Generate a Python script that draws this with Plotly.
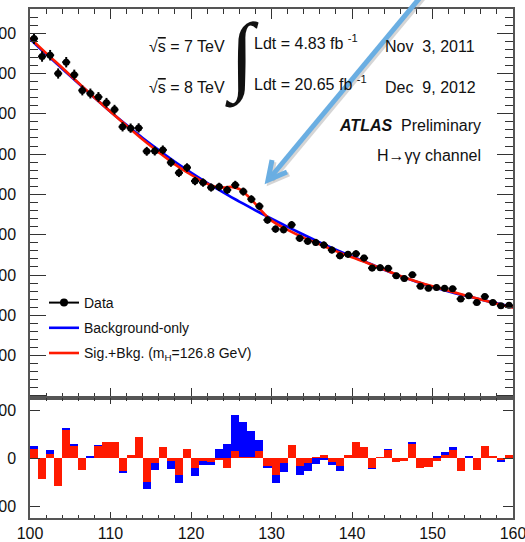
import plotly.graph_objects as go

# ---------------- data ----------------
bin_lo = list(range(100, 160))          # 1 GeV bins, 100-160 GeV
data_events = [4433, 4211, 4227, 4000, 4140, 3985, 3790, 3752, 3709, 3637,
               3552, 3339, 3322, 3325, 3035, 3038, 3052, 2896, 2768, 2833,
               2666, 2647, 2586, 2594, 2556, 2618, 2535, 2441, 2353, 2183,
               2070, 2063, 2124, 1955, 1920, 1905, 1873, 1810, 1738, 1757,
               1765, 1710, 1586, 1592, 1583, 1490, 1458, 1503, 1362, 1335,
               1345, 1336, 1330, 1204, 1243, 1158, 1234, 1161, 1120, 1124]
resid_bkg = [51, -76, 32, -105, 125, 60, -45, 7, 53, 68,
             68, -62, 2, 85, -128, -49, 38, -45, -104, 28,
             -74, -30, -28, 39, 60, 178, 150, 111, 76, -42,
             -105, -60, 50, -70, -56, -24, -10, -28, -56, 5,
             55, 40, -45, 0, 38, -16, -12, 68, -40, -36,
             5, 24, 46, -54, 10, -50, 50, 0, -17, 10]
resid_sb = [39, -87, 17, -118, 115, 50, -50, 0, 49, 67,
            67, -53, 12, 88, -102, -21, 44, -14, -69, 39,
            -42, -12, -18, -5, -40, 28, 3, 2, 30, -35,
            -70, -21, 56, -32, -21, 4, 12, -18, -35, 14,
            66, 46, -42, 4, 35, -16, -12, 60, -40, -36,
            -11, 14, 32, -56, 0, -50, 48, 5, -7, 14]
curve_mass = [100, 102, 104, 106, 108, 110, 112, 114, 116, 118, 120, 122,
              123, 124, 125, 126, 127, 128, 129, 130,
              132, 134, 136, 138, 140, 142, 144, 146, 148, 150, 152, 154, 156, 158, 160]
bkg_curve = [4430, 4240, 4060, 3880, 3700, 3525, 3360, 3200, 3050, 2905, 2772, 2645,
             2584, 2525, 2468, 2412, 2357, 2303, 2251, 2200,
             2098, 2000, 1905, 1815, 1730, 1650, 1565, 1487, 1418, 1355, 1297, 1245, 1196, 1149, 1102]
sb_curve = [4442, 4253, 4071, 3886, 3703, 3525, 3352, 3180, 3022, 2873, 2744, 2633,
            2594, 2585, 2593, 2567, 2487, 2383, 2271, 2175,
            2060, 1964, 1880, 1797, 1720, 1647, 1567, 1489, 1421, 1360, 1305, 1250, 1198, 1144, 1096]
top_ticks = [0, 500, 1000, 1500, 2000, 2500, 3000, 3500, 4000, 4500]
bot_ticks = [-200, 0, 200]
x_ticks = [100, 110, 120, 130, 140, 150, 160]

# ---------------- layout helpers ----------------
W, H = 525, 542
ML, MR, MT, MB = 30, 12, 9, 24
PW, PH = W - ML - MR, H - MT - MB
def px(x): return (x - ML) / PW
def py(y): return (H - MB - y) / PH
split = py(398)

BLUE = "#0000ff"
RED = "#ff1a00"
FONT = "Liberation Sans, Arial, sans-serif"
AX = "#555555"

centers = [m + 0.5 for m in bin_lo]

fig = go.Figure()
fig.add_bar(x=centers, y=resid_bkg, width=1, marker=dict(color=BLUE, line_width=0),
            xaxis="x2", yaxis="y2", showlegend=False)
fig.add_bar(x=centers, y=resid_sb, width=1, marker=dict(color=RED, line_width=0),
            xaxis="x2", yaxis="y2", showlegend=False)
fig.add_scatter(x=curve_mass, y=bkg_curve, mode="lines",
                line=dict(color=BLUE, width=2.6, shape="spline"), showlegend=False)
fig.add_scatter(x=curve_mass, y=sb_curve, mode="lines",
                line=dict(color=RED, width=2.6, shape="spline"), showlegend=False)
fig.add_scatter(x=centers, y=data_events, mode="markers",
                marker=dict(color="black", size=7),
                error_x=dict(type="constant", value=0.5, thickness=2, width=0, color="black"),
                error_y=dict(type="sqrt", thickness=2, width=0, color="black"),
                showlegend=False)

# legend entries
fig.add_scatter(x=[None], y=[None], mode="lines+markers", name="Data", legendgroup="a",
                line=dict(color="black", width=2), marker=dict(color="black", size=8))
fig.add_scatter(x=[None], y=[None], mode="lines", name="Background-only", legendgroup="b",
                line=dict(color=BLUE, width=2.6))
fig.add_scatter(x=[None], y=[None], mode="lines", name="Sig.+Bkg. (m<sub>H</sub>=126.8 GeV)",
                legendgroup="c", line=dict(color=RED, width=2.6))

common_x = dict(range=[100, 160], showline=True, linecolor=AX, linewidth=1.5,
                mirror="ticks", ticks="inside", tickcolor="#333", showgrid=False,
                zeroline=False, tickvals=x_ticks)

fig.update_layout(
    template="none",
    width=W, height=H,
    margin=dict(l=ML, r=MR, t=MT, b=MB, pad=0),
    paper_bgcolor="white", plot_bgcolor="white",
    font=dict(family=FONT, size=16, color="#111"),
    barmode="overlay", bargap=0,
    xaxis=dict(common_x, domain=[0, 1], anchor="y", showticklabels=False,
               ticklen=10, tickwidth=1.2,
               minor=dict(dtick=2, tick0=100, ticklen=5, ticks="inside", tickcolor="#333", tickwidth=1.2)),
    yaxis=dict(domain=[split, 1], range=[-25, 4800], anchor="x",
               tickvals=top_ticks, ticktext=[""] + [str(v) for v in top_ticks[1:]],
               showline=True, linecolor=AX, linewidth=1.5, mirror="ticks",
               ticks="inside", ticklen=16, tickwidth=1.2, tickcolor="#333",
               showgrid=False, zeroline=False, ticklabelstandoff=9,
               tickfont=dict(size=16),
               minor=dict(dtick=100, tick0=0, ticklen=8, ticks="inside", tickcolor="#333", tickwidth=1.2)),
    xaxis2=dict(common_x, domain=[0, 1], anchor="y2", ticklen=6, tickwidth=1.2,
                tickfont=dict(size=16), ticklabeloverflow="allow",
                minor=dict(dtick=2, tick0=100, ticklen=3, ticks="inside", tickcolor="#333", tickwidth=1.2)),
    yaxis2=dict(domain=[0, split], range=[-250, 250], anchor="x2",
                tickvals=bot_ticks, showline=True, linecolor=AX, linewidth=1.5, mirror="ticks",
                ticks="inside", ticklen=10, tickwidth=1.2, tickcolor="#333",
                showgrid=False, zeroline=False, ticklabelstandoff=9, tickfont=dict(size=16)),
    legend=dict(x=px(44), y=py(287), xanchor="left", yanchor="top",
                bgcolor="rgba(0,0,0,0)", font=dict(size=14, family=FONT, color="#111"),
                traceorder="grouped", tracegroupgap=4),
    showlegend=True,
)

def note(text, x, y, xanchor="left", size=16, yanchor="middle", family=FONT):
    fig.add_annotation(text=text, x=px(x), y=py(y), xref="paper", yref="paper",
                       xanchor=xanchor, yanchor=yanchor, showarrow=False,
                       font=dict(size=size, family=family, color="#111"))

note("√<span style='text-decoration:overline'>s</span> = 7 TeV", 147, 46)
note("√<span style='text-decoration:overline'>s</span> = 8 TeV", 147, 87)
note("∫", 242, 57, xanchor="center", size=88, family="Liberation Serif")
note("Ldt = 4.83 fb <sup>-1</sup>", 252, 42)
note("Nov\u00a0 3, 2011", 383, 46)
note("Ldt = 20.65 fb <sup>-1</sup>", 252, 83)
note("Dec\u00a0 9, 2012", 383, 87)
note("<b><i>ATLAS</i></b>\u00a0 Preliminary", 483, 126, xanchor="right")
note("H→γγ channel", 483, 155, xanchor="right")
note("M<sub>γγ</sub> [GeV]", 511, 538, xanchor="right", yanchor="top", size=17)

# hand-drawn style blue arrow (overlay)
ARW = "#6aaee2"
tip = (268, 180)
tail = (428, -12)
a1 = (272, 160)
a2 = (287, 172)
for dx, dy, col, op in [(2, 2, "#888888", 0.35), (0, 0, ARW, 1.0)]:
    fig.add_shape(type="line", xref="paper", yref="paper",
                  x0=px(tip[0] + dx + 2), y0=py(tip[1] + dy - 2),
                  x1=px(tail[0] + dx), y1=py(tail[1] + dy),
                  line=dict(color=col, width=5), opacity=op, layer="above")
    fig.add_shape(type="path", xref="paper", yref="paper",
                  path="M {} {} L {} {} L {} {}".format(px(a1[0] + dx), py(a1[1] + dy),
                                                         px(tip[0] + dx), py(tip[1] + dy),
                                                         px(a2[0] + dx), py(a2[1] + dy)),
                  line=dict(color=col, width=5), opacity=op, layer="above")

fig.write_html("out.html")
